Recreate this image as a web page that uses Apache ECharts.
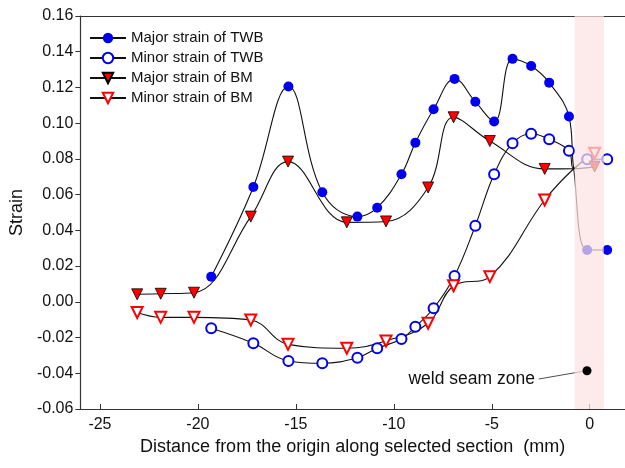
<!DOCTYPE html>
<html>
<head>
<meta charset="utf-8">
<script src="https://cdn.jsdelivr.net/npm/echarts@6/dist/echarts.min.js"></script>
<style>
  html, body { margin: 0; padding: 0; background: #fff; }
  #chart { width: 625px; height: 468px; }
</style>
</head>
<body>
<div id="chart"></div>
<script>
// x positions (mm) of the measuring points
const xTwb = [-19.32, -17.17, -15.38, -13.65, -11.86, -10.85, -9.61, -8.9, -7.97, -6.9, -5.84, -4.88, -3.94, -2.99, -2.07, -1.06, -0.82, -0.13, 0.89];
const xBm = [-23.1, -21.9, -20.2, -17.3, -15.4, -12.4, -10.4, -8.25, -6.95, -5.1, -2.3, -0.82, 0.25];

const majorTwb = [0.0141, 0.0643, 0.1205, 0.0613, 0.0477, 0.0527, 0.0714, 0.0891, 0.1078, 0.1248, 0.112, 0.1009, 0.136, 0.132, 0.1227, 0.1037, 0.0745, 0.029, 0.029];
const minorTwb = [-0.0148, -0.0232, -0.0331, -0.0344, -0.0313, -0.026, -0.0208, -0.0139, -0.0036, 0.0145, 0.0426, 0.0714, 0.0888, 0.0941, 0.091, 0.0845, 0.0745, 0.0798, 0.0798];
const majorBm = [0.0042, 0.0045, 0.0051, 0.0477, 0.0785, 0.0445, 0.045, 0.064, 0.1033, 0.090, 0.0744, 0.0745, 0.0757];
const minorBm = [-0.006, -0.0087, -0.0087, -0.0102, -0.0238, -0.026, -0.0219, -0.012, 0.009, 0.0141, 0.057, 0.0745, 0.0832];

// weld seam zone and its marker
const weldZone = [-0.77, 0.72];
const weldPoint = [-0.14, -0.0386];

const xTicks = [-25, -20, -15, -10, -5, 0];

const FONT = '"Liberation Sans", Arial, sans-serif';
const BLUE = '#0000ee';
const RED = '#ff0000';

// the point where the curves meet at the edge of the weld zone has no marker
function pairs(xs, ys) {
    return xs.map((x, i) => {
        if (x === -0.82) return { value: [x, ys[i]], symbol: 'none' };
        return [x, ys[i]];
    });
}

function lineSeries(name, xs, ys, symbol, itemStyle) {
    return {
        name: name,
        type: 'line',
        smooth: 0.4,
        data: pairs(xs, ys),
        symbol: symbol,
        symbolSize: symbol === 'circle' ? 10 : 11,
        symbolRotate: symbol === 'triangle' ? 180 : 0,
        showAllSymbol: true,
        lineStyle: { color: '#111', width: 1.1 },
        itemStyle: itemStyle,
        z: 3
    };
}

let myChart = echarts.init(document.getElementById('chart'));

let option = {
    animation: false,
    textStyle: { fontFamily: FONT },
    grid: { left: 77, right: 0, top: 16, bottom: 59 },
    legend: {
        data: ['Major strain of TWB', 'Minor strain of TWB', 'Major strain of BM', 'Minor strain of BM'],
        orient: 'vertical',
        left: 84,
        top: 25,
        itemWidth: 36,
        itemHeight: 13,
        itemGap: 4,
        textStyle: { fontSize: 15, color: '#111', fontFamily: FONT, lineHeight: 16 }
    },
    xAxis: [
        {
            type: 'value',
            min: -26,
            max: 1.8,
            name: 'Distance from the origin along selected section  (mm)',
            nameLocation: 'middle',
            nameGap: 25,
            nameTextStyle: { fontSize: 18, color: '#111', fontFamily: FONT },
            axisLine: { onZero: false, lineStyle: { color: '#333', width: 1.2 } },
            axisTick: { inside: true, length: 5, customValues: xTicks, lineStyle: { color: '#333' } },
            axisLabel: { customValues: xTicks, fontSize: 16, color: '#111', margin: 8, fontFamily: FONT },
            splitLine: { show: false }
        },
        {
            type: 'value',
            position: 'top',
            min: -26,
            max: 1.8,
            axisLine: { show: true, onZero: false, lineStyle: { color: '#333', width: 1.2 } },
            axisTick: { show: false },
            axisLabel: { show: false },
            splitLine: { show: false }
        }
    ],
    yAxis: {
        type: 'value',
        min: -0.06,
        max: 0.16,
        interval: 0.02,
        name: 'Strain',
        nameLocation: 'middle',
        nameGap: 45,
        nameTextStyle: { fontSize: 18, color: '#111', fontFamily: FONT },
        axisLine: { show: true, onZero: false, lineStyle: { color: '#333', width: 1.2 } },
        axisTick: { show: true, length: 5, lineStyle: { color: '#333' } },
        axisLabel: {
            fontSize: 16, color: '#111', margin: 7, fontFamily: FONT,
            formatter: v => v.toFixed(2)
        },
        splitLine: { show: false }
    },
    series: [
        lineSeries('Major strain of TWB', xTwb, majorTwb, 'circle', { color: BLUE }),
        lineSeries('Minor strain of TWB', xTwb, minorTwb, 'circle', { color: '#fff', borderColor: BLUE, borderWidth: 2 }),
        lineSeries('Major strain of BM', xBm, majorBm, 'triangle', { color: RED, borderColor: '#000', borderWidth: 0.8 }),
        lineSeries('Minor strain of BM', xBm, minorBm, 'triangle', { color: '#fff', borderColor: RED, borderWidth: 2 }),
        {
            // translucent band for the weld seam zone, laid over the curves
            name: 'zone',
            type: 'line',
            data: [],
            z: 10,
            markArea: {
                silent: true,
                z: 10,
                itemStyle: { color: 'rgba(252,226,226,0.72)' },
                data: [[{ xAxis: weldZone[0] }, { xAxis: weldZone[1] }]]
            }
        },
        {
            name: 'weld',
            type: 'scatter',
            data: [weldPoint],
            symbolSize: 9,
            itemStyle: { color: '#000', opacity: 1 },
            zlevel: 1,
            z: 20,
            markLine: {
                silent: true,
                symbol: ['none', 'none'],
                lineStyle: { color: '#222', width: 0.8, type: 'solid' },
                label: {
                    show: true,
                    position: 'start',
                    distance: 4,
                    formatter: 'weld seam zone',
                    fontSize: 17.5,
                    color: '#111',
                    fontFamily: FONT
                },
                data: [[{ coord: [-2.6, -0.0432] }, { coord: [-0.28, -0.0388] }]]
            }
        }
    ]
};
option && myChart.setOption(option);
</script>
</body>
</html>
